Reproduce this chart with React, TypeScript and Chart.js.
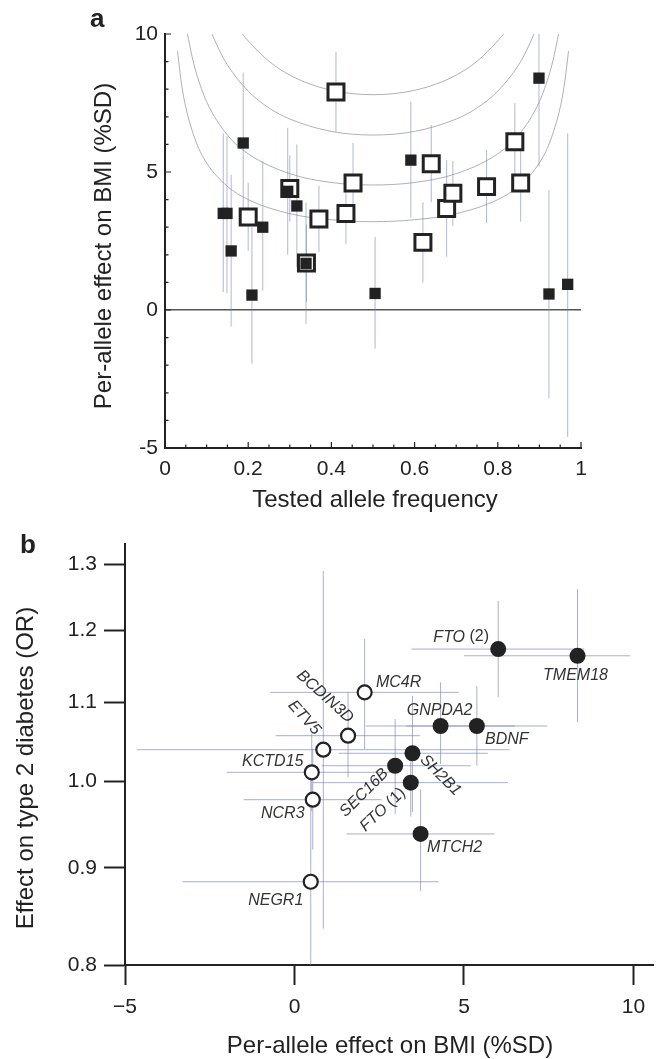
import React, { useEffect, useRef } from 'react';
import { Chart, registerables } from 'chart.js';

Chart.register(...registerables);

const FONT = '"Liberation Sans", Arial, Helvetica, sans-serif';
const INK = '#222222';
const BAR_A = 'rgba(125, 135, 185, 0.6)';
const CURVE_A = 'rgba(145, 150, 170, 0.75)';
const BAR_B = 'rgba(120, 130, 190, 0.65)';

// ---------------- Panel a ----------------
const freqTicks = [0, 0.2, 0.4, 0.6, 0.8, 1];
const effectTicks = [-5, 0, 5, 10];

// small filled squares
const filledFreq = [0.14, 0.149, 0.159, 0.188, 0.209, 0.235, 0.295, 0.317, 0.339, 0.505, 0.591, 0.899, 0.923, 0.968];
const filledEffect = [3.5, 3.5, 2.14, 6.05, 0.54, 3.0, 4.3, 3.77, 1.69, 0.6, 5.43, 8.4, 0.58, 0.93];
const filledLow = [0.65, 0.6, -0.6, 3.5, -1.95, 0.7, 2.0, 1.55, -0.5, -1.4, 3.35, 5.2, -3.2, -4.6];
const filledHigh = [6.4, 6.3, 4.9, 8.6, 3.0, 5.4, 6.6, 6.0, 3.9, 2.65, 7.55, 11.6, 4.35, 6.4];

// large open squares
const openFreq = [0.2, 0.3, 0.34, 0.37, 0.411, 0.435, 0.452, 0.62, 0.64, 0.677, 0.692, 0.773, 0.841, 0.855];
const openEffect = [3.37, 4.4, 1.7, 3.3, 7.9, 3.5, 4.6, 2.45, 5.3, 3.68, 4.23, 4.47, 6.1, 4.6];
const openLow = [2.15, 3.2, 0.3, 2.1, 6.45, 2.4, 3.15, 1.0, 3.9, 1.93, 3.05, 3.15, 4.7, 3.2];
const openHigh = [4.6, 5.6, 3.1, 4.5, 9.35, 4.6, 6.05, 3.9, 6.7, 5.43, 5.4, 5.8, 7.5, 6.0];

// power curves
const curve1Freq = [0.03, 0.04, 0.05, 0.075, 0.1, 0.15, 0.2, 0.3, 0.4, 0.5, 0.6, 0.7, 0.8, 0.85, 0.9, 0.925, 0.95, 0.96, 0.97];
const curve1Effect = [9.38, 8.16, 7.34, 6.08, 5.33, 4.48, 4.0, 3.49, 3.27, 3.2, 3.27, 3.49, 4.0, 4.48, 5.33, 6.08, 7.34, 8.16, 9.38];
const curve2Freq = [0.054, 0.065, 0.075, 0.1, 0.15, 0.2, 0.3, 0.4, 0.5, 0.6, 0.7, 0.8, 0.85, 0.9, 0.925, 0.935, 0.946];
const curve2Effect = [10.0, 9.19, 8.6, 7.55, 6.34, 5.66, 4.94, 4.62, 4.53, 4.62, 4.94, 5.66, 6.34, 7.55, 8.6, 9.19, 10.0];
const curve3Freq = [0.113, 0.13, 0.15, 0.2, 0.25, 0.3, 0.4, 0.5, 0.6, 0.7, 0.75, 0.8, 0.85, 0.87, 0.887];
const curve3Effect = [10.0, 9.43, 8.88, 7.93, 7.32, 6.92, 6.47, 6.34, 6.47, 6.92, 7.32, 7.93, 8.88, 9.43, 10.0];
const curve4Freq = [0.186, 0.2, 0.25, 0.3, 0.35, 0.4, 0.45, 0.5, 0.55, 0.6, 0.65, 0.7, 0.75, 0.8, 0.814];
const curve4Effect = [10.0, 9.75, 9.01, 8.51, 8.18, 7.96, 7.84, 7.8, 7.84, 7.96, 8.18, 8.51, 9.01, 9.75, 10.0];

// ---------------- Panel b ----------------
const bmiTicks = [-5, 0, 5, 10];
const orTicks = [0.8, 0.9, 1.0, 1.1, 1.2, 1.3];

const genes = ['FTO (2)', 'TMEM18', 'MC4R', 'GNPDA2', 'BDNF', 'BCDIN3D', 'ETV5', 'SH2B1', 'SEC16B', 'KCTD15', 'FTO (1)', 'NCR3', 'MTCH2', 'NEGR1'];
const geneFilled = [true, true, false, true, true, false, false, true, true, false, true, false, true, false];
const bmiEffect = [6.01, 8.35, 2.07, 4.31, 5.38, 1.58, 0.85, 3.48, 2.97, 0.51, 3.43, 0.54, 3.72, 0.48];
const bmiLow = [3.45, 5.0, -0.71, 2.1, 3.3, -0.55, -4.65, 1.3, 0.8, -2.0, 0.55, -1.5, 1.53, -3.3];
const bmiHigh = [8.55, 9.9, 4.85, 6.5, 7.46, 3.7, 6.35, 5.7, 5.2, 3.0, 6.3, 2.57, 5.9, 4.25];
const t2dOR = [1.1735, 1.164, 1.1135, 1.069, 1.069, 1.0565, 1.0387, 1.0342, 1.0187, 1.0106, 0.998, 0.9776, 0.9378, 0.885];
const orLow = [1.107, 1.074, 1.0396, 1.0208, 1.0187, 1.0045, 0.836, 0.963, 0.961, 0.964, 0.958, 0.92, 0.875, 0.78];
const orHigh = [1.244, 1.262, 1.188, 1.127, 1.122, 1.114, 1.29, 1.109, 1.078, 1.059, 1.04, 1.04, 0.99, 1.004];

// label placement (pixel offsets from the marker, rotation in degrees)
const geneLabelPlacement = [
  { dx: -37, dy: -12, angle: 0 },
  { dx: -2, dy: 20, angle: 0 },
  { dx: 34, dy: -10, angle: 0 },
  { dx: -1, dy: -15, angle: 0 },
  { dx: 30, dy: 14, angle: 0 },
  { dx: -23, dy: -39, angle: 42 },
  { dx: -19, dy: -32, angle: 48 },
  { dx: 28, dy: 22, angle: 45 },
  { dx: -31, dy: 27, angle: -45 },
  { dx: -39, dy: -11, angle: 0 },
  { dx: -28, dy: 27, angle: -43 },
  { dx: -30, dy: 14, angle: 0 },
  { dx: 34, dy: 14, angle: 0 },
  { dx: -35, dy: 19, angle: 0 },
];

// ---------------- helpers ----------------
const pts = (xs: number[], ys: number[]) => xs.map((x, i) => ({ x, y: ys[i] }));
const vBars = (xs: number[], lo: number[], hi: number[]) => {
  const out: any[] = [];
  xs.forEach((x, i) => { out.push({ x, y: lo[i] }, { x, y: hi[i] }, { x, y: null }); });
  return out;
};
const hBars = (ys: number[], lo: number[], hi: number[]) => {
  const out: any[] = [];
  ys.forEach((y, i) => { out.push({ x: lo[i], y }, { x: hi[i], y }, { x: hi[i], y: null }); });
  return out;
};

type TextItem = { text: string; x: number; y: number; font: string; angle?: number; align?: CanvasTextAlign };
const textPlugin = (id: string, items: TextItem[]) => ({
  id,
  afterDraw(chart: any) {
    const ctx = chart.ctx;
    items.forEach((it) => {
      ctx.save();
      ctx.translate(it.x, it.y);
      if (it.angle) ctx.rotate((it.angle * Math.PI) / 180);
      ctx.font = it.font;
      ctx.fillStyle = INK;
      ctx.textAlign = it.align || 'center';
      ctx.textBaseline = 'alphabetic';
      ctx.fillText(it.text, 0, 0);
      ctx.restore();
    });
  },
});

const innerTicksPlugin = {
  id: 'innerTicks',
  afterDraw(chart: any) {
    const { ctx, chartArea } = chart;
    const xs = chart.scales.x;
    const ys = chart.scales.y;
    ctx.save();
    ctx.strokeStyle = INK;
    ctx.lineWidth = 1.2;
    ctx.beginPath();
    for (let i = 0; i <= 20; i++) {
      const px = xs.getPixelForValue(i / 20);
      const len = i % 4 === 0 ? 6 : 3.5;
      ctx.moveTo(px, chartArea.bottom);
      ctx.lineTo(px, chartArea.bottom - len);
    }
    for (let v = -5; v <= 10; v++) {
      const py = ys.getPixelForValue(v);
      const len = v % 5 === 0 ? 6 : 3.5;
      ctx.moveTo(chartArea.left, py);
      ctx.lineTo(chartArea.left + len, py);
    }
    ctx.stroke();
    ctx.restore();
  },
};

const geneLabelPlugin = {
  id: 'geneLabels',
  afterDatasetsDraw(chart: any) {
    const ctx = chart.ctx;
    const xs = chart.scales.x;
    const ys = chart.scales.y;
    const fi = `italic 16px ${FONT}`;
    const fn = `16px ${FONT}`;
    genes.forEach((name, i) => {
      const p = geneLabelPlacement[i];
      const px = xs.getPixelForValue(bmiEffect[i]) + p.dx;
      const py = ys.getPixelForValue(t2dOR[i]) + p.dy;
      const m = name.match(/^(\S+)(.*)$/) as RegExpMatchArray;
      const ital = m[1];
      const rest = m[2];
      ctx.save();
      ctx.translate(px, py);
      ctx.rotate((p.angle * Math.PI) / 180);
      ctx.textBaseline = 'middle';
      ctx.textAlign = 'left';
      ctx.fillStyle = '#333333';
      ctx.font = fi;
      const wi = ctx.measureText(ital).width;
      ctx.font = fn;
      const wr = rest ? ctx.measureText(rest).width : 0;
      const x0 = -(wi + wr) / 2;
      ctx.font = fi;
      ctx.fillText(ital, x0, 0);
      if (rest) {
        ctx.font = fn;
        ctx.fillText(rest, x0 + wi, 0);
      }
      ctx.restore();
    });
  },
};

const tickFont = { family: FONT, size: 21 };

function buildPanelA(): any {
  const curve = (xs: number[], ys: number[]) => ({
    data: pts(xs, ys),
    showLine: true,
    borderColor: CURVE_A,
    borderWidth: 1,
    pointRadius: 0,
    pointHoverRadius: 0,
    pointHitRadius: 0,
    cubicInterpolationMode: 'monotone',
    order: 3,
  });
  return {
    type: 'scatter',
    data: {
      datasets: [
        { data: pts(filledFreq, filledEffect), pointStyle: 'rect', pointRadius: 8, pointHoverRadius: 8, backgroundColor: INK, borderWidth: 0, order: 0 },
        { data: pts(openFreq, openEffect), pointStyle: 'rect', pointRadius: 11.3, pointHoverRadius: 11.3, backgroundColor: '#ffffff', borderColor: INK, borderWidth: 3, order: 1 },
        {
          data: [...vBars(filledFreq, filledLow, filledHigh), ...vBars(openFreq, openLow, openHigh)],
          showLine: true, borderColor: BAR_A, borderWidth: 1, pointRadius: 0, pointHoverRadius: 0, pointHitRadius: 0, order: 2,
        },
        curve(curve1Freq, curve1Effect),
        curve(curve2Freq, curve2Effect),
        curve(curve3Freq, curve3Effect),
        curve(curve4Freq, curve4Effect),
      ],
    },
    options: {
      responsive: false,
      animation: false,
      devicePixelRatio: 1,
      events: [],
      layout: { padding: { left: 0, top: 34, right: 82, bottom: 0 } },
      plugins: { legend: { display: false }, tooltip: { enabled: false } },
      scales: {
        x: {
          type: 'linear', min: 0, max: 1,
          afterBuildTicks: (s: any) => { s.ticks = freqTicks.map((v) => ({ value: v })); },
          afterFit: (s: any) => { s.height = 72; },
          grid: { display: false, drawTicks: false },
          border: { display: true, color: INK, width: 2 },
          ticks: { color: INK, font: tickFont, padding: 9, maxRotation: 0, autoSkip: false, callback: (v: any) => String(Math.round(Number(v) * 10) / 10) },
        },
        y: {
          type: 'linear', min: -5, max: 10,
          afterBuildTicks: (s: any) => { s.ticks = effectTicks.map((v) => ({ value: v })); },
          afterFit: (s: any) => { s.width = 165; },
          grid: { drawTicks: false, lineWidth: 1.5, color: (c: any) => (c.tick && c.tick.value === 0 ? '#555555' : 'rgba(0,0,0,0)') },
          border: { display: true, color: INK, width: 2 },
          ticks: { color: INK, font: tickFont, padding: 7, autoSkip: false, callback: (v: any) => String(v) },
        },
      },
    },
    plugins: [
      innerTicksPlugin,
      textPlugin('textA', [
        { text: 'a', x: 90, y: 27, font: `bold 26px ${FONT}`, align: 'left' },
        { text: 'Per-allele effect on BMI (%SD)', x: 111, y: 246, font: `24px ${FONT}`, angle: -90 },
        { text: 'Tested allele frequency', x: 375, y: 507, font: `24px ${FONT}` },
      ]),
    ],
  };
}

function buildPanelB(): any {
  const idxFilled = genes.map((_, i) => i).filter((i) => geneFilled[i]);
  const idxOpen = genes.map((_, i) => i).filter((i) => !geneFilled[i]);
  return {
    type: 'scatter',
    data: {
      datasets: [
        { data: idxFilled.map((i) => ({ x: bmiEffect[i], y: t2dOR[i] })), pointStyle: 'circle', pointRadius: 8, pointHoverRadius: 8, backgroundColor: INK, borderWidth: 0, order: 0 },
        { data: idxOpen.map((i) => ({ x: bmiEffect[i], y: t2dOR[i] })), pointStyle: 'circle', pointRadius: 7, pointHoverRadius: 7, backgroundColor: '#ffffff', borderColor: INK, borderWidth: 2.2, order: 0 },
        { data: hBars(t2dOR, bmiLow, bmiHigh), showLine: true, borderColor: BAR_B, borderWidth: 1, pointRadius: 0, pointHoverRadius: 0, pointHitRadius: 0, order: 1 },
        { data: vBars(bmiEffect, orLow, orHigh), showLine: true, borderColor: BAR_B, borderWidth: 1, pointRadius: 0, pointHoverRadius: 0, pointHitRadius: 0, order: 1 },
      ],
    },
    options: {
      responsive: false,
      animation: false,
      devicePixelRatio: 1,
      events: [],
      layout: { padding: { left: 0, top: 24, right: 3, bottom: 0 } },
      plugins: { legend: { display: false }, tooltip: { enabled: false } },
      scales: {
        x: {
          type: 'linear', min: -5, max: 10.6,
          afterBuildTicks: (s: any) => { s.ticks = bmiTicks.map((v) => ({ value: v })); },
          afterFit: (s: any) => { s.height = 94; },
          grid: { display: true, drawOnChartArea: false, drawTicks: true, tickLength: 20, tickWidth: 2, tickColor: INK, color: INK },
          border: { display: true, color: INK, width: 2 },
          ticks: { color: INK, font: tickFont, padding: 10, maxRotation: 0, autoSkip: false, callback: (v: any) => (Number(v) < 0 ? '\u2212' + Math.abs(Number(v)) : String(v)) },
        },
        y: {
          type: 'logarithmic', min: 0.8, max: 1.333,
          afterBuildTicks: (s: any) => { s.ticks = orTicks.map((v) => ({ value: v })); },
          afterFit: (s: any) => { s.width = 125; },
          grid: { display: true, drawOnChartArea: false, drawTicks: true, tickLength: 21, tickWidth: 2, tickColor: INK, color: INK },
          border: { display: true, color: INK, width: 2 },
          ticks: { color: INK, font: tickFont, padding: 7, autoSkip: false, callback: (v: any) => Number(v).toFixed(1) },
        },
      },
    },
    plugins: [
      geneLabelPlugin,
      textPlugin('textB', [
        { text: 'b', x: 20, y: 33, font: `bold 26px ${FONT}`, align: 'left' },
        { text: 'Effect on type 2 diabetes (OR)', x: 33, y: 248, font: `24px ${FONT}`, angle: -90 },
        { text: 'Per-allele effect on BMI (%SD)', x: 390, y: 533, font: `24px ${FONT}` },
      ]),
    ],
  };
}

function ChartCanvas({ build, top, height }: { build: () => any; top: number; height: number }) {
  const ref = useRef<HTMLCanvasElement>(null);
  useEffect(() => {
    const chart = new Chart(ref.current as HTMLCanvasElement, build());
    return () => chart.destroy();
  }, []);
  return (
    <canvas
      ref={ref}
      width={663}
      height={height}
      style={{ position: 'absolute', left: 0, top, width: 663, height, display: 'block' }}
    />
  );
}

export default function App() {
  return (
    <div style={{ position: 'absolute', left: 0, top: 0, width: 663, height: 1059, background: '#ffffff', overflow: 'hidden' }}>
      <ChartCanvas build={buildPanelA} top={0} height={520} />
      <ChartCanvas build={buildPanelB} top={520} height={539} />
    </div>
  );
}
